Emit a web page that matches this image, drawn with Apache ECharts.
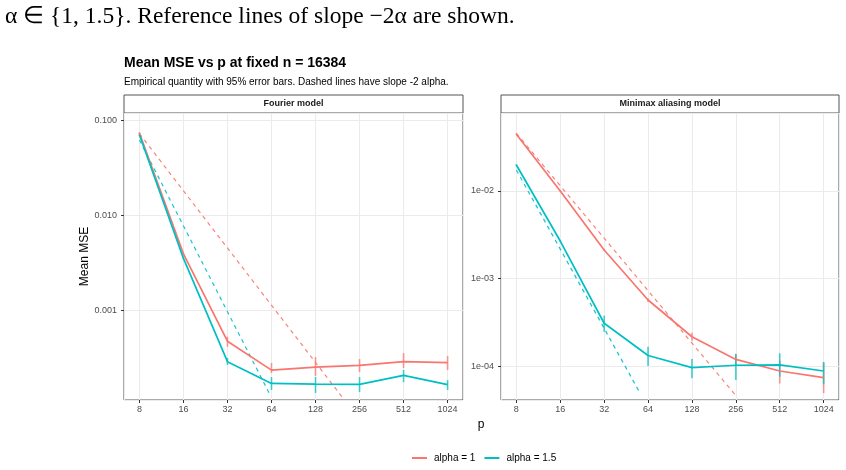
<!DOCTYPE html>
<html>
<head>
<meta charset="utf-8">
<script src="https://cdn.jsdelivr.net/npm/echarts@6/dist/echarts.min.js"></script>
<style>
html, body { margin: 0; padding: 0; background: #fff; }
#main { width: 846px; height: 470px; }
</style>
</head>
<body>
<div id="main"></div>
<script>
var pValues = [8, 16, 32, 64, 128, 256, 512, 1024];

// Fourier model panel
var fourierA1 = [0.073, 0.0039, 4.7e-4, 2.33e-4, 2.51e-4, 2.62e-4, 2.86e-4, 2.79e-4];
var fourierA1Lo = [0.0715, 0.00382, 4.11e-4, 2.17e-4, 2.02e-4, 2.22e-4, 2.45e-4, 2.34e-4];
var fourierA1Hi = [0.0745, 0.00398, 5.24e-4, 2.77e-4, 3.2e-4, 3.05e-4, 3.52e-4, 3.28e-4];
var fourierA15 = [0.070, 0.0035, 2.86e-4, 1.69e-4, 1.66e-4, 1.65e-4, 2.05e-4, 1.64e-4];
var fourierA15Lo = [0.0685, 0.00343, 2.64e-4, 1.44e-4, 1.34e-4, 1.37e-4, 1.74e-4, 1.44e-4];
var fourierA15Hi = [0.0715, 0.00357, 3.12e-4, 1.97e-4, 1.97e-4, 1.97e-4, 2.34e-4, 1.83e-4];
var fourierRefA1 = [[8, 0.072], [195, 1.21e-4]];
var fourierRefA15 = [[8, 0.0616], [62, 1.32e-4]];

// Minimax aliasing model panel
var minimaxA1 = [0.0445, 0.0100, 2.12e-3, 5.68e-4, 2.16e-4, 1.19e-4, 8.77e-5, 7.36e-5];
var minimaxA1Lo = [0.0435, 0.0098, 2.06e-3, 5.4e-4, 1.95e-4, 1.02e-4, 6.3e-5, 4.9e-5];
var minimaxA1Hi = [0.0455, 0.0102, 2.18e-3, 5.95e-4, 2.4e-4, 1.38e-4, 1.15e-4, 1.1e-4];
var minimaxA15 = [0.0198, 0.00268, 3.08e-4, 1.32e-4, 9.57e-5, 1.02e-4, 1.03e-4, 8.77e-5];
var minimaxA15Lo = [0.0193, 0.00262, 2.47e-4, 1.0e-4, 7.23e-5, 6.92e-5, 7.55e-5, 6.18e-5];
var minimaxA15Hi = [0.0203, 0.00274, 3.76e-4, 1.66e-4, 1.2e-4, 1.36e-4, 1.4e-4, 1.11e-4];
var minimaxRefA1 = [[8, 0.0456], [256, 4.6e-5]];
var minimaxRefA15 = [[8, 0.0174], [56.4, 4.9e-5]];

var RED = '#F8766D';
var CYAN = '#00BFC4';
var FONT = 'Liberation Sans';

var myChart = echarts.init(document.getElementById('main'));

function pairs(vals) {
    return pValues.map(function (p, i) { return [p, vals[i]]; });
}

function solid(name, idx, vals, color) {
    return {
        name: name, type: 'line', xAxisIndex: idx, yAxisIndex: idx,
        data: pairs(vals), symbol: 'none',
        lineStyle: { color: color, width: 1.7 },
        itemStyle: { color: color },
        z: 3
    };
}

function dashed(idx, data, color) {
    return {
        name: 'ref', type: 'line', xAxisIndex: idx, yAxisIndex: idx,
        data: data, symbol: 'none',
        lineStyle: { color: color, width: 1.2, type: [4, 4], opacity: 0.9 },
        z: 2
    };
}

function errBars(idx, lo, hi, color) {
    return {
        name: 'err', type: 'custom', xAxisIndex: idx, yAxisIndex: idx,
        data: pValues.map(function (p, i) { return [p, lo[i], hi[i]]; }),
        encode: { x: 0, y: [1, 2] },
        renderItem: function (params, api) {
            var a = api.coord([api.value(0), api.value(1)]);
            var b = api.coord([api.value(0), api.value(2)]);
            return {
                type: 'line',
                shape: { x1: a[0], y1: a[1], x2: b[0], y2: b[1] },
                style: { stroke: color, lineWidth: 1.6, opacity: 0.75 }
            };
        },
        z: 1
    };
}

function xAxis(idx) {
    return {
        type: 'log', logBase: 2, gridIndex: idx,
        min: 8 / Math.pow(2, 0.35), max: 1024 * Math.pow(2, 0.35),
        axisLine: { show: false },
        axisTick: { show: true, length: 3, lineStyle: { color: '#333' } },
        axisLabel: {
            color: '#4D4D4D', fontSize: 9, fontFamily: FONT, margin: 5,
            showMinLabel: false, showMaxLabel: false,
            formatter: function (v) { return Math.round(v); }
        },
        splitLine: { show: true, lineStyle: { color: '#EBEBEB', width: 1 } }
    };
}

function yAxis(idx, min, max, fmt) {
    return {
        type: 'log', logBase: 10, gridIndex: idx, min: min, max: max,
        axisLine: { show: false },
        axisTick: { show: true, length: 3, lineStyle: { color: '#333' } },
        axisLabel: {
            color: '#4D4D4D', fontSize: 9, fontFamily: FONT, margin: 7,
            showMinLabel: false, showMaxLabel: false, formatter: fmt
        },
        splitLine: { show: true, lineStyle: { color: '#EBEBEB', width: 1 } }
    };
}

var yLeft = yAxis(0, 1.13e-4, 0.1186, function (v) { return v.toFixed(3); });
yLeft.name = 'Mean MSE';
yLeft.nameLocation = 'middle';
yLeft.nameGap = 32;
yLeft.nameTextStyle = { color: '#000', fontSize: 12, fontFamily: FONT };

var yRight = yAxis(1, 4.09e-5, 0.0778, function (v) {
    var e = Math.round(Math.log10(v));
    return '1e-' + ('0' + (-e)).slice(-2);
});

function strip(x, w, label) {
    return [
        { type: 'rect', shape: { x: x, y: 95, width: w, height: 18 },
          style: { fill: '#fff', stroke: '#555', lineWidth: 1 } },
        { type: 'text', x: x + w / 2, y: 104,
          style: { text: label, fill: '#1A1A1A', font: 'bold 9px ' + FONT,
                   textAlign: 'center', textVerticalAlign: 'middle' } }
    ];
}

var option = {
    backgroundColor: '#fff',
    animation: false,
    title: {
        text: 'Mean MSE vs p at fixed n = 16384',
        subtext: 'Empirical quantity with 95% error bars. Dashed lines have slope -2 alpha.',
        left: 124, top: 56, padding: 0, itemGap: 7,
        textStyle: { color: '#000', fontSize: 14, fontWeight: 'bold', fontFamily: FONT },
        subtextStyle: { color: '#000', fontSize: 10, fontFamily: FONT }
    },
    legend: {
        data: ['alpha = 1', 'alpha = 1.5'],
        icon: 'rect',
        left: 412, top: 453, itemWidth: 15, itemHeight: 2, itemGap: 9,
        padding: 0,
        textStyle: { color: '#000', fontSize: 10, fontFamily: FONT, padding: [0, 0, 0, 2] }
    },
    grid: [
        { left: 124, top: 113, width: 339, height: 287, show: true,
          borderColor: '#555', borderWidth: 1, backgroundColor: '#fff' },
        { left: 501, top: 113, width: 338, height: 287, show: true,
          borderColor: '#555', borderWidth: 1, backgroundColor: '#fff' }
    ],
    xAxis: [xAxis(0), xAxis(1)],
    yAxis: [yLeft, yRight],
    graphic: [
        { type: 'text', left: 5, top: 5,
          style: { text: 'α ∈ {1, 1.5}. Reference lines of slope −2α are shown.',
                   fill: '#000', font: '23.5px "Liberation Serif"' } },
        { type: 'text', x: 481, y: 425,
          style: { text: 'p', fill: '#000', font: '12px ' + FONT,
                   textAlign: 'center', textVerticalAlign: 'middle' } }
    ].concat(strip(124, 339, 'Fourier model'), strip(501, 338, 'Minimax aliasing model')),
    series: [
        errBars(0, fourierA1Lo, fourierA1Hi, RED),
        errBars(0, fourierA15Lo, fourierA15Hi, CYAN),
        dashed(0, fourierRefA1, RED),
        dashed(0, fourierRefA15, CYAN),
        solid('alpha = 1', 0, fourierA1, RED),
        solid('alpha = 1.5', 0, fourierA15, CYAN),
        errBars(1, minimaxA1Lo, minimaxA1Hi, RED),
        errBars(1, minimaxA15Lo, minimaxA15Hi, CYAN),
        dashed(1, minimaxRefA1, RED),
        dashed(1, minimaxRefA15, CYAN),
        solid('alpha = 1', 1, minimaxA1, RED),
        solid('alpha = 1.5', 1, minimaxA15, CYAN)
    ]
};

myChart.setOption(option);
</script>
</body>
</html>
